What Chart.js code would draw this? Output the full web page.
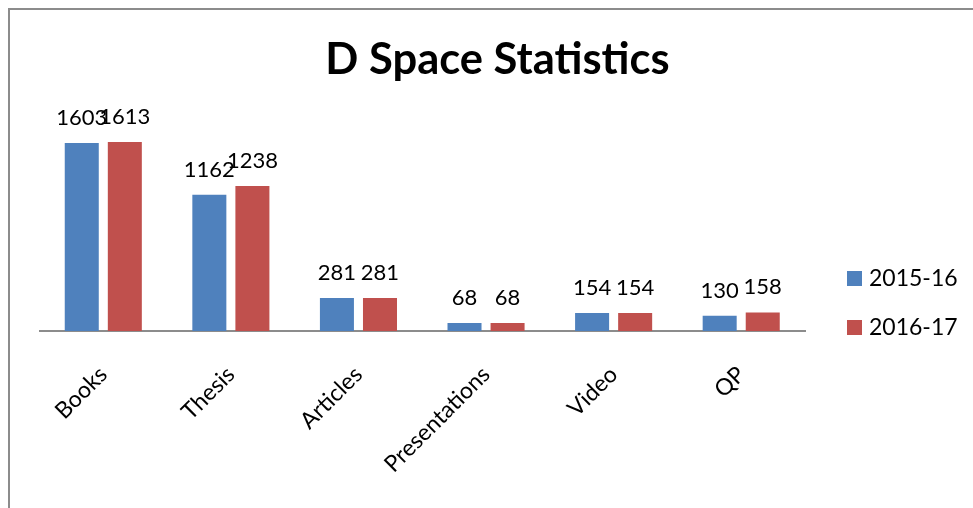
<!DOCTYPE html>
<html>
<head>
<meta charset="utf-8">
<script src="https://cdn.jsdelivr.net/npm/chart.js@4.4.1/dist/chart.umd.min.js"></script>
<style>
  html, body { margin: 0; padding: 0; background: #ffffff; overflow: hidden; width: 973px; height: 508px; }
  #frame { position: absolute; left: 8px; top: 8px; width: 975px; height: 520px;
           border-left: 2px solid #8c8c8c; border-top: 2px solid #8c8c8c; }
  #wrap { position: absolute; left: 0; top: 0; width: 975px; height: 520px; }
</style>
</head>
<body>
<div id="frame"><div id="wrap"><canvas id="c" width="975" height="520"></canvas></div></div>
<script>
const categories = ["Books", "Thesis", "Articles", "Presentations", "Video", "QP"];
const seriesNames = ["2015-16", "2016-17"];
const values2015 = [1603, 1162, 281, 68, 154, 130];
const values2016 = [1613, 1238, 281, 68, 154, 158];
const chartTitle = "D Space Statistics";

const FONT = "Lato, 'Open Sans', sans-serif";
const LABEL_SIZE = 22;
const LEGEND_SIZE = 23;
const TICK_SIZE = 23;

const overlayPlugin = {
  id: 'overlay',
  afterDatasetsDraw(chart) {
    const ctx = chart.ctx;
    ctx.save();
    ctx.fillStyle = '#000000';
    ctx.font = LABEL_SIZE + 'px ' + FONT;
    ctx.textAlign = 'center';
    ctx.textBaseline = 'alphabetic';
    chart.data.datasets.forEach((ds, i) => {
      const meta = chart.getDatasetMeta(i);
      meta.data.forEach((bar, j) => {
        ctx.fillText(String(ds.data[j]), bar.x, bar.y - 18);
      });
    });
    // legend
    const lx = 837, ly = [261, 310];
    ctx.font = LEGEND_SIZE + 'px ' + FONT;
    ctx.textAlign = 'left';
    ctx.textBaseline = 'middle';
    chart.data.datasets.forEach((ds, i) => {
      ctx.fillStyle = ds.backgroundColor;
      ctx.fillRect(lx, ly[i], 15, 15);
      ctx.fillStyle = '#000000';
      ctx.fillText(ds.label, lx + 22, ly[i] + 8);
    });
    ctx.restore();
  }
};

new Chart(document.getElementById('c'), {
  type: 'bar',
  data: {
    labels: categories,
    datasets: [
      { label: seriesNames[0], data: values2015, backgroundColor: '#4F81BD',
        categoryPercentage: 0.675, barPercentage: 0.79 },
      { label: seriesNames[1], data: values2016, backgroundColor: '#C0504D',
        categoryPercentage: 0.675, barPercentage: 0.79 }
    ]
  },
  plugins: [overlayPlugin],
  options: {
    responsive: false,
    animation: false,
    devicePixelRatio: 1,
    layout: { padding: 0 },
    plugins: {
      legend: { display: false },
      tooltip: { enabled: false },
      title: {
        display: true,
        text: chartTitle,
        color: '#000000',
        font: { family: FONT, size: 43.5, weight: 'bold', lineHeight: 1.2 },
        padding: { top: 24, bottom: 33.8 }
      }
    },
    scales: {
      x: {
        grid: { display: false, drawTicks: false },
        border: { display: true, color: '#8c8c8c', width: 2 },
        ticks: {
          color: '#000000',
          font: { family: FONT, size: TICK_SIZE },
          maxRotation: 45, minRotation: 45, autoSkip: false, padding: 30
        },
        afterFit(scale) { scale.height = 520 - 321; }
      },
      y: {
        display: true,
        position: 'left',
        min: 0, max: 1800,
        grid: { display: false, drawTicks: false },
        border: { display: false },
        ticks: { display: false },
        afterFit(scale) { scale.width = 29.5; }
      },
      yRight: {
        display: true,
        position: 'right',
        min: 0, max: 1800,
        grid: { display: false, drawTicks: false },
        border: { display: false },
        ticks: { display: false },
        afterFit(scale) { scale.width = 180; }
      }
    }
  }
});
</script>
</body>
</html>
